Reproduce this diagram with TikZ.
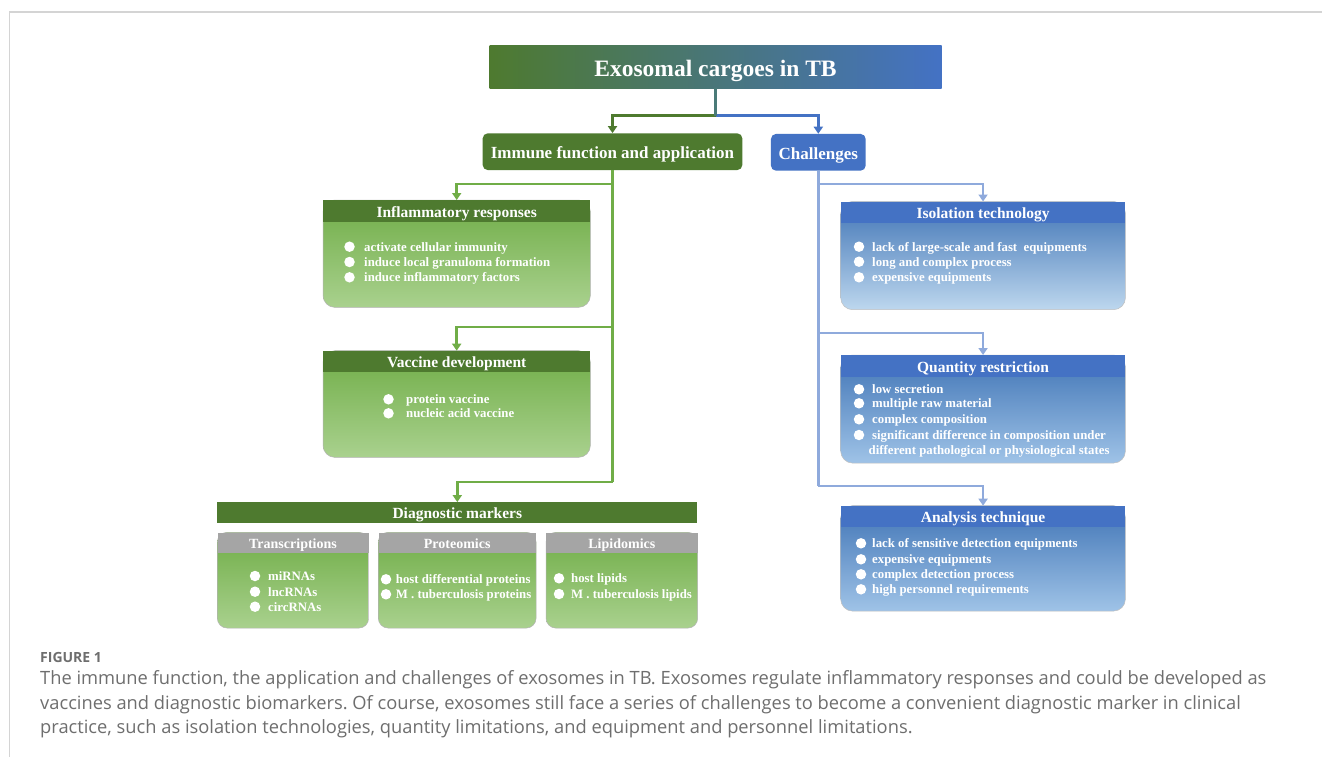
\documentclass[tikz,border=0pt]{standalone}
\usepackage{fontspec}
\setmainfont{Liberation Serif}
\newfontfamily\capfont{Open Sans}
\usetikzlibrary{arrows.meta}
\frenchspacing

\definecolor{dkgreen}{HTML}{4E7A2F}
\definecolor{accblue}{HTML}{4472C4}
\definecolor{lgreen}{HTML}{70AD47}
\definecolor{pgreen}{HTML}{A9D18E}
\definecolor{lblue}{HTML}{8FAADC}
\definecolor{stemc}{HTML}{4A7A78}
\definecolor{hgray}{HTML}{A5A5A5}
\definecolor{btop}{HTML}{4175B6}
\definecolor{bbotA}{HTML}{BDD7EE}
\definecolor{bbotB}{HTML}{9FC3E7}
\definecolor{capgray}{HTML}{6E6E6E}
\definecolor{framec}{HTML}{D4D4D4}

% a box with a coloured header strip and a shaded body
\newcommand\panel[7]{% name, x, y, width, height, header text, kind
  \node[inner sep=0, minimum width=#4, minimum height=#5, anchor=north west] (#1) at (#2,#3) {};
  \shadedraw[#7body] (#1.north west) rectangle (#1.south east);
  \node[#7head, minimum width=#4, anchor=north west] (#1-head) at (#1.north west) {#6};}

% one bullet line: name, dot x, text x, y, text
\newcommand\bitem[5]{%
  \node[dot] (#1-dot) at (#2,#4) {};
  \node[itemtext] (#1) at ({#3},{#4+4.3}) {#5};}

\tikzset{
  titlebox/.style={text height=19pt, text depth=0pt, minimum width=452, minimum height=43, inner sep=0,
    left color=dkgreen, right color=accblue, text=white,
    font=\fontsize{23.5}{28}\selectfont\bfseries},
  immbox/.style={text height=14.2pt, text depth=0pt, rounded corners=5, minimum width=259.6,
    minimum height=36.7, inner sep=0,
    fill=dkgreen, text=white, font=\fontsize{17}{20}\selectfont\bfseries},
  chalbox/.style={immbox, minimum width=94.7, fill=accblue},
  ghead/.style={text height=12.6pt, text depth=0pt, fill=dkgreen, text=white, minimum height=21.5,
    inner sep=0, font=\fontsize{15.5}{18}\selectfont\bfseries},
  bhead/.style={ghead, fill=accblue},
  bbhead/.style={bhead},
  shead/.style={text height=11.2pt, text depth=0pt, fill=hgray, text=white, minimum height=20,
    inner sep=0, font=\fontsize{14}{17}\selectfont\bfseries},
  gbody/.style={rounded corners=12, top color=lgreen, bottom color=pgreen,
    draw=black!30, line width=0.5},
  sbody/.style={gbody, rounded corners=10},
  bbody/.style={rounded corners=12, top color=btop, bottom color=bbotA,
    draw=black!25, line width=0.5},
  bbbody/.style={bbody, bottom color=bbotB},
  diagbar/.style={text height=12.6pt, text depth=0pt, fill=dkgreen, text=white, minimum width=480,
    minimum height=20.4, inner sep=0, font=\fontsize{15.5}{18}\selectfont\bfseries},
  dot/.style={circle, fill=white, inner sep=0, minimum size=10.5},
  itemtext/.style={anchor=base west, inner sep=0, text=white,
    font=\fontsize{12.8}{15}\selectfont\bfseries},
  tip/.style={-{Triangle[width=9pt,length=7pt]}},
  stem/.style={draw=stemc, line width=3},
  dkgarrow/.style={draw=dkgreen, line width=3, tip},
  bluarrow/.style={draw=accblue, line width=3, tip},
  gline/.style={draw=lgreen, line width=2.6},
  garrow/.style={gline, tip},
  bline/.style={draw=lblue, line width=2.6},
  barrow/.style={bline, tip},
  captext/.style={anchor=base west, inner sep=0, text=capgray,
    font=\capfont\fontsize{18.3}{22}\selectfont},
}

\begin{document}
\begin{tikzpicture}[x=1pt, y=-1pt]
\useasboundingbox (0,0) rectangle (1322,757);
\fill[white] (0,0) rectangle (1322,757);
\draw[framec, line width=1.3] (9.5,757) -- (9.5,12) -- (1322,12);

% top level
\node[titlebox] (title) at (715.5,66.7) {Exosomal cargoes in TB};
\node[immbox] (immune) at (612.5,151.7) {Immune function and application};
\node[chalbox] (chal) at (818.3,152.3) {Challenges};

\coordinate (split) at (715.5,116);
\draw[dkgarrow] (split) -| (immune.north);
\draw[bluarrow] (split) -| (chal.north);
\draw[stem] (title.south) -- (split);

% immune function branch
\panel{infl}{323}{200}{267}{107}{Inflammatory responses}{g}
\bitem{infl1}{349.5}{364}{246.7}{activate cellular immunity}
\bitem{infl2}{349.5}{364}{262}{induce local granuloma formation}
\bitem{infl3}{349.5}{364}{277.3}{induce inflammatory factors}

\panel{vacc}{323}{350.7}{267}{106.3}{Vaccine development}{g}
\bitem{vacc1}{388.5}{406}{399.3}{protein vaccine}
\bitem{vacc2}{388.5}{406}{413.3}{nucleic acid vaccine}

\node[diagbar] (diag) at (457.3,512.5) {Diagnostic markers};

\panel{trans}{217.3}{532.3}{151}{95.4}{Transcriptions}{s}
\bitem{trans1}{255}{268}{576}{miRNAs}
\bitem{trans2}{255}{268}{591.7}{lncRNAs}
\bitem{trans3}{255}{268}{606.7}{circRNAs}

\panel{prot}{378.3}{532.3}{157.4}{95.4}{Proteomics}{s}
\bitem{prot1}{386}{395.7}{579.3}{host differential proteins}
\bitem{prot2}{386}{395.7}{594.3}{M . tuberculosis proteins}

\panel{lipid}{546}{532.3}{151.3}{95.4}{Lipidomics}{s}
\bitem{lipid1}{559}{571}{578.3}{host lipids}
\bitem{lipid2}{559}{571}{594}{M . tuberculosis lipids}

\coordinate (gy1) at (0,184);
\coordinate (gy2) at (0,327);
\coordinate (gy3) at (0,482);
\draw[gline] (immune.south) -- (immune.south |- gy3);
\draw[garrow] (immune.south |- gy1) -| (infl.north);
\draw[garrow] (immune.south |- gy2) -| (vacc.north);
\draw[garrow] (immune.south |- gy3) -| (diag.north);

% challenges branch
\panel{iso}{840.7}{201.5}{284.3}{107.8}{Isolation technology}{b}
\bitem{iso1}{859}{872}{246.7}{lack of large-scale and fast~ equipments}
\bitem{iso2}{859}{872}{261.7}{long and complex process}
\bitem{iso3}{859}{872}{277.3}{expensive equipments}

\panel{quant}{840.7}{355}{284.3}{107.7}{Quantity restriction}{bb}
\bitem{quant1}{859}{872}{389.3}{low secretion}
\bitem{quant2}{859}{872}{403.3}{multiple raw material}
\bitem{quant3}{859}{872}{419.3}{complex composition}
\bitem{quant4}{859}{872}{435}{significant difference in composition under}
\node[itemtext] (quant4b) at (868.5,454.3) {different pathological or physiological states};

\panel{anal}{840.7}{505.7}{284.3}{105}{Analysis technique}{bb}
\bitem{anal1}{861}{872}{543.3}{lack of sensitive detection equipments}
\bitem{anal2}{861}{872}{559.3}{expensive equipments}
\bitem{anal3}{861}{872}{574.3}{complex detection process}
\bitem{anal4}{861}{872}{589.3}{high personnel requirements}

\coordinate (by1) at (0,184);
\coordinate (by2) at (0,333);
\coordinate (by3) at (0,486);
\draw[bline] (chal.south) -- (chal.south |- by3);
\draw[barrow] (chal.south |- by1) -| (iso.north);
\draw[barrow] (chal.south |- by2) -| (quant.north);
\draw[barrow] (chal.south |- by3) -| (anal.north);

% caption
\node[captext, font=\capfont\fontsize{14}{16}\selectfont\bfseries] (fig) at (40,662) {FIGURE 1};
\node[captext] (cap1) at (40,684) {The immune function, the application and challenges of exosomes in TB. Exosomes regulate inflammatory responses and could be developed as};
\node[captext] (cap2) at (40,709) {vaccines and diagnostic biomarkers. Of course, exosomes still face a series of challenges to become a convenient diagnostic marker in clinical};
\node[captext] (cap3) at (40,733) {practice, such as isolation technologies, quantity limitations, and equipment and personnel limitations.};
\end{tikzpicture}
\end{document}
